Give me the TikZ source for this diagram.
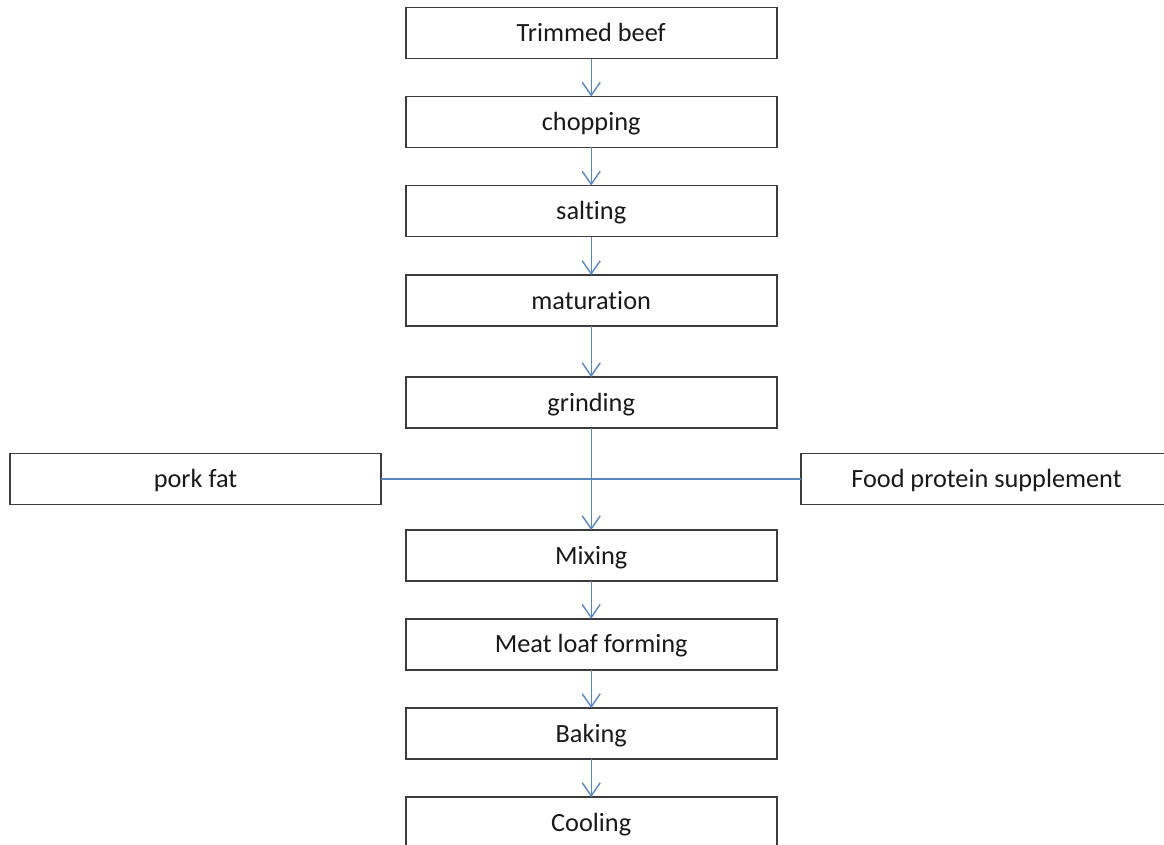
\documentclass[tikz,border=0pt]{standalone}
\usepackage{fontspec}
\setmainfont[Ligatures=NoCommon]{Carlito}
\usetikzlibrary{arrows.meta}
\definecolor{boxline}{RGB}{60,60,60}
\definecolor{conn}{RGB}{90,134,190}
\definecolor{txt}{RGB}{25,25,25}
\begin{document}
\begin{tikzpicture}[x=1pt,y=-1pt,
  stepbox/.style={draw=boxline, line width=1.6pt, rectangle, minimum width=371pt,
    minimum height=51pt, inner sep=0pt, outer sep=0pt, text=txt,
    font=\fontsize{26.3}{30}\selectfont, text height=22pt, text depth=5pt},
  connline/.style={draw=conn, line width=1.4pt},
  flow/.style={connline, -{Straight Barb[length=13pt,width=18pt,line width=1.4pt]}}]
\useasboundingbox (0,0) rectangle (1164,845);
\clip (0,0) rectangle (1164,845);
\node[stepbox] (beef)  at (591.2,33.2)  {Trimmed beef};
\node[stepbox] (chop)  at (591.2,122)   {chopping};
\node[stepbox] (salt)  at (591.2,211)   {salting};
\node[stepbox] (mat)   at (591.2,300.5) {maturation};
\node[stepbox] (grind) at (591.2,402.6) {grinding};
\node[stepbox] (pork)  at (195.5,479)   {pork fat};
\node[stepbox] (food)  at (986.5,479)   {Food protein supplement};
\node[stepbox] (mix)   at (591.2,555.5) {Mixing};
\node[stepbox] (loaf)  at (591.2,644.2) {Meat loaf forming};
\node[stepbox] (bake)  at (591.2,733.5) {Baking};
\node[stepbox] (cool)  at (591.2,822.5) {Cooling};
\draw[flow] (beef) -- (chop);
\draw[flow] (chop) -- (salt);
\draw[flow] (salt) -- (mat);
\draw[flow] (mat) -- (grind);
\draw[connline] (pork) -- (food);
\draw[flow] (grind) -- (mix);
\draw[flow] (mix) -- (loaf);
\draw[flow] (loaf) -- (bake);
\draw[flow] (bake) -- (cool);
\end{tikzpicture}
\end{document}
